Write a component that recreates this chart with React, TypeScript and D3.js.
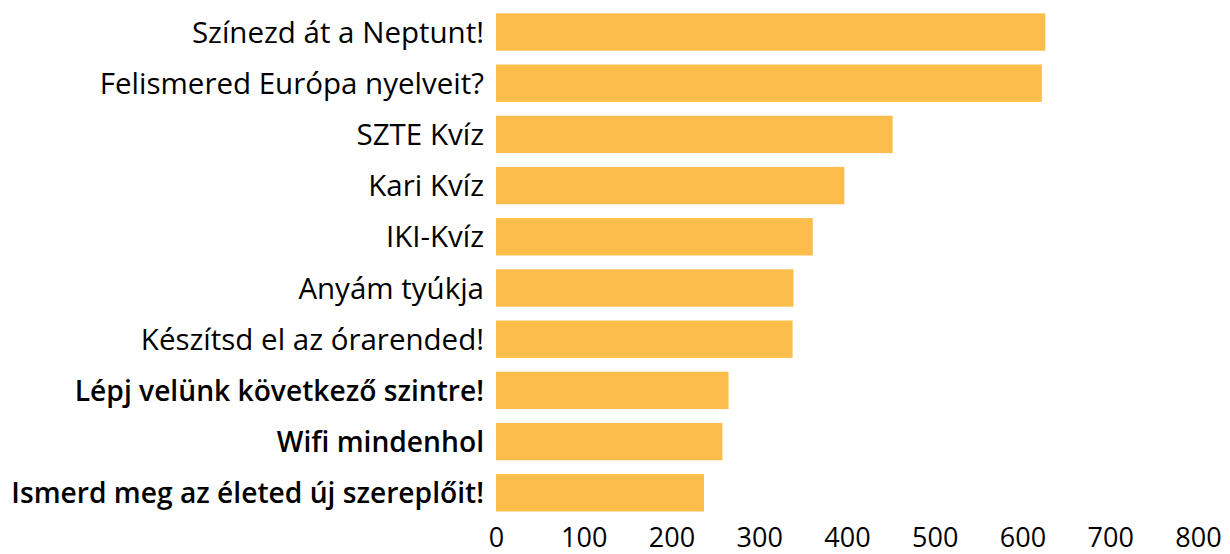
import React, { useRef, useEffect } from "react";
import * as d3 from "d3";

const categories = [
  "Színezd át a Neptunt!",
  "Felismered Európa nyelveit?",
  "SZTE Kvíz ",
  "Kari Kvíz",
  "IKI-Kvíz",
  "Anyám tyúkja",
  "Készítsd el az órarended!",
  "Lépj velünk következő szintre!",
  "Wifi mindenhol",
  "Ismerd meg az életed új szereplőit!",
];
const values = [626, 622, 452, 397, 361, 339, 338, 265, 258, 237];
const boldLabels = [
  "Lépj velünk következő szintre!",
  "Wifi mindenhol",
  "Ismerd meg az életed új szereplőit!",
];
const xTicks = [0, 100, 200, 300, 400, 500, 600, 700, 800];

const App: React.FC = () => {
  const chartRef = useRef<SVGSVGElement | null>(null);

  useEffect(() => {
    if (!chartRef.current) return;
    const svg = d3.select(chartRef.current);
    svg.selectAll("*").remove();

    const font = "'Open Sans', sans-serif";

    const x = d3.scaleLinear().domain([0, 800]).range([496, 1198]);
    const y = d3
      .scaleBand<string>()
      .domain(categories)
      .range([-0.5, 525.3])
      .paddingInner(0.27)
      .paddingOuter(0.27);

    const data = categories.map((c, i) => ({ name: c, value: values[i] }));

    svg
      .append("g")
      .selectAll("rect")
      .data(data)
      .join("rect")
      .attr("x", x(0))
      .attr("y", (d) => y(d.name) || 0)
      .attr("width", (d) => x(d.value) - x(0))
      .attr("height", y.bandwidth())
      .attr("fill", "#FDBD4A");

    svg
      .append("g")
      .selectAll("text")
      .data(data)
      .join("text")
      .attr("x", x(0) - 12)
      .attr("y", (d) => (y(d.name) || 0) + y.bandwidth() / 2)
      .attr("dy", "0.36em")
      .attr("text-anchor", "end")
      .attr("font-family", font)
      .attr("font-size", (d) => (boldLabels.includes(d.name) ? 28.2 : 29.5))
      .attr("font-weight", (d) => (boldLabels.includes(d.name) ? 600 : 400))
      .attr("fill", "#000")
      .text((d) => d.name);

    const axis = svg
      .append("g")
      .attr("transform", `translate(0,523)`)
      .call(
        d3
          .axisBottom(x)
          .tickValues(xTicks)
          .tickSize(0)
          .tickPadding(0)
          .tickFormat((d) => String(d))
      );
    axis.select(".domain").remove();
    axis
      .selectAll("text")
      .attr("font-family", font)
      .attr("font-size", 27)
      .attr("fill", "#000")
      .attr("dy", "0.9em");
  }, []);

  return (
    <div style={{ position: "absolute", left: 0, top: 0 }}>
      <svg ref={chartRef} width={1230} height={554} style={{ display: "block", background: "#fff" }} />
    </div>
  );
};

export default App;
